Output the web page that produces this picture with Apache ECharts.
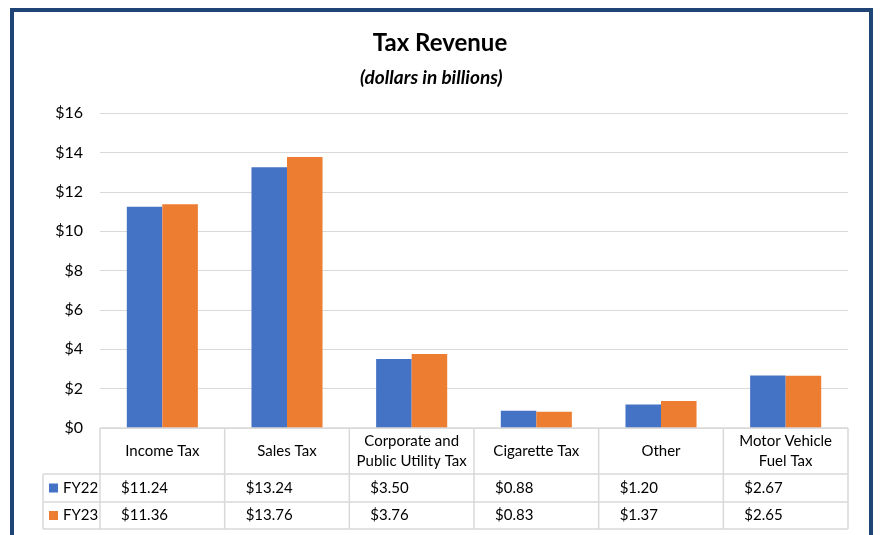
<!DOCTYPE html>
<html>
<head>
<meta charset="utf-8">
<script src="https://cdn.jsdelivr.net/npm/echarts@6/dist/echarts.min.js"></script>
<style>
  html, body { margin: 0; padding: 0; background: #fff; }
  #main { width: 880px; height: 535px; }
</style>
</head>
<body>
<div id="main"></div>
<script>
// data
var categories = ['Income Tax', 'Sales Tax', 'Corporate and\nPublic Utility Tax', 'Cigarette Tax', 'Other', 'Motor Vehicle\nFuel Tax'];
var seriesNames = ['FY22', 'FY23'];
var fy22 = [11.24, 13.24, 3.50, 0.88, 1.20, 2.67];
var fy23 = [11.36, 13.76, 3.76, 0.83, 1.37, 2.65];
var yMin = 0, yMax = 16, yStep = 2;

var colors = ['#4472C4', '#ED7D31'];
var font = 'Lato, "Noto Sans", sans-serif';
var lineCol = '#D9D9D9';

function money(v) { return '$' + v.toFixed(2); }

var myChart = echarts.init(document.getElementById('main'));

var option = {
    backgroundColor: '#fff',
    animation: false,
    textStyle: { fontFamily: font },
    title: [
        {
            text: 'Tax Revenue',
            left: 'center',
            top: 26,
            textStyle: { fontSize: 24, fontWeight: 'bold', color: '#000', fontFamily: font }
        },
        {
            text: '(dollars in billions)',
            left: 355,
            top: 63,
            textStyle: { fontSize: 19, fontWeight: 'bold', fontStyle: 'italic', color: '#000', fontFamily: font }
        }
    ],
    grid: { left: 100, right: 32, top: 113, bottom: 107 },
    xAxis: {
        type: 'category',
        data: categories,
        axisLine: { show: false },
        axisTick: { show: false },
        axisLabel: {
            interval: 0,
            margin: 23,
            verticalAlign: 'middle',
            lineHeight: 20,
            fontSize: 15,
            color: '#000',
            fontFamily: font
        }
    },
    yAxis: {
        type: 'value',
        min: yMin,
        max: yMax,
        interval: yStep,
        axisLine: { show: false },
        axisTick: { show: false },
        axisLabel: {
            margin: 17,
            fontSize: 16,
            color: '#000',
            fontFamily: font,
            formatter: function (v) { return '$' + v; }
        },
        splitLine: { lineStyle: { color: lineCol, width: 1 } }
    },
    series: [
        {
            name: seriesNames[0],
            type: 'bar',
            data: fy22,
            color: colors[0],
            barGap: '0%',
            barCategoryGap: '43%'
        },
        {
            name: seriesNames[1],
            type: 'bar',
            data: fy23,
            color: colors[1],
            barGap: '0%',
            barCategoryGap: '43%'
        }
    ]
};

myChart.setOption(option);

// data table under the axis
var x0 = myChart.convertToPixel({ xAxisIndex: 0 }, 0);
var x1 = myChart.convertToPixel({ xAxisIndex: 0 }, 1);
var band = x1 - x0;
var left = x0 - band / 2;
var right = left + band * categories.length;
var yTop = myChart.convertToPixel({ yAxisIndex: 0 }, 0);
var yRow1 = yTop + 46, yRow2 = yRow1 + 28, yBot = yRow2 + 27;
var keyLeft = 43;

var g = [];
function hline(y, xa, xb) {
    g.push({ type: 'line', shape: { x1: xa, y1: y, x2: xb, y2: y }, style: { stroke: lineCol, lineWidth: 1.5 }, z: 10 });
}
function vline(x, ya, yb) {
    g.push({ type: 'line', shape: { x1: x, y1: ya, x2: x, y2: yb }, style: { stroke: lineCol, lineWidth: 1.5 }, z: 10 });
}
hline(yTop, left, right);
hline(yRow1, keyLeft, right);
hline(yRow2, keyLeft, right);
hline(yBot, keyLeft, right);
vline(keyLeft, yRow1, yBot);
for (var i = 0; i <= categories.length; i++) {
    vline(left + band * i, yTop, yBot);
}

var rows = [fy22, fy23];
var rowMid = [(yRow1 + yRow2) / 2, (yRow2 + yBot) / 2];
for (var r = 0; r < rows.length; r++) {
    g.push({ type: 'rect', shape: { x: 49, y: rowMid[r] - 4.5, width: 9, height: 9 }, style: { fill: colors[r] }, z: 10 });
    g.push({ type: 'text', x: 63, y: rowMid[r], style: { text: seriesNames[r], font: '15px ' + font, fill: '#000', verticalAlign: 'middle' }, z: 10 });
    for (var c = 0; c < rows[r].length; c++) {
        g.push({
            type: 'text',
            x: left + band * c + 21,
            y: rowMid[r],
            style: { text: money(rows[r][c]), font: '15px ' + font, fill: '#000', verticalAlign: 'middle' },
            z: 10
        });
    }
}

// frame
g.push({ type: 'rect', shape: { x: 12, y: 10, width: 859, height: 600 }, style: { fill: 'none', stroke: '#1F4576', lineWidth: 4 }, z: 20 });

myChart.setOption({ graphic: g });
</script>
</body>
</html>
